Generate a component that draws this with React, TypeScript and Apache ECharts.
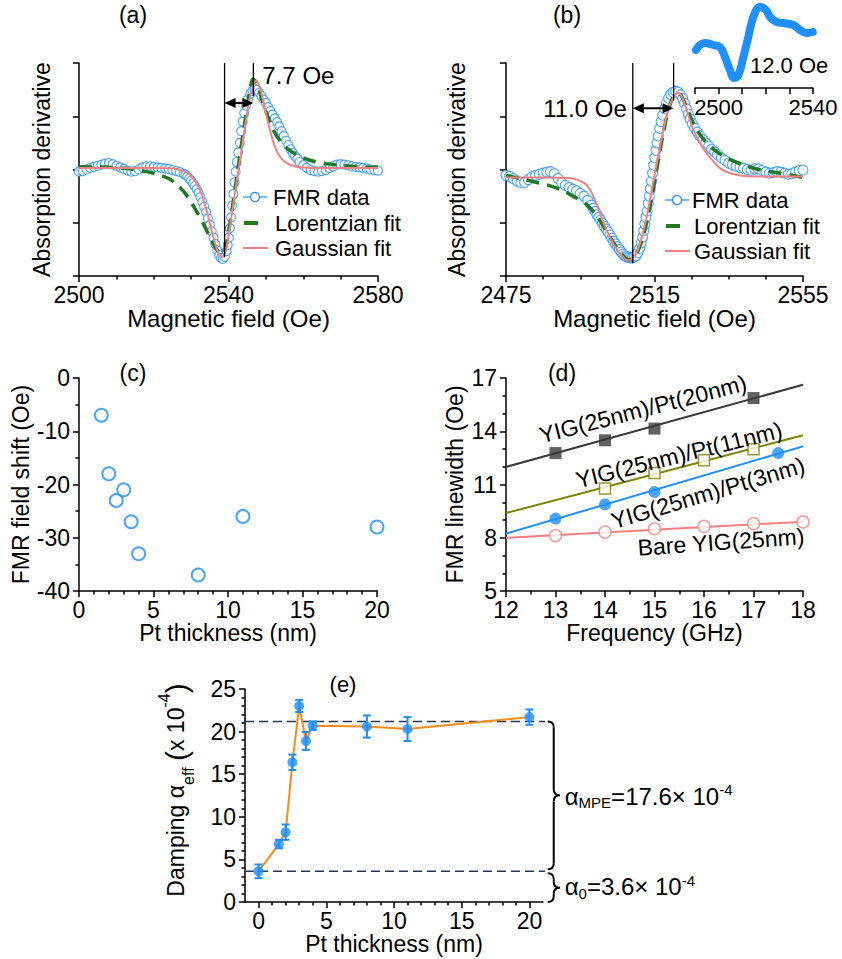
import React, { useEffect, useRef } from "react";
import * as echarts from "echarts";

type Pt = [number, number];

const FONT = "'Liberation Sans', Arial, Helvetica, sans-serif";
const BLACK = "#000";
const BLUE = "#1E8FFF";
const GREEN = "#1F7A1F";
const PINK = "#F77F7F";
const DARK = "#3A3A3A";
const OLIVE = "#808000";
const ORANGE = "#FF8A14";
const NAVY = "#23345F";

// ---------- (a) derivative spectrum, field (Oe) vs signal (arb.) ----------
const fmrA: Pt[] = [
  [2500, -0.04], [2501, -0.03], [2502, 0.0], [2503, 0.03], [2504, 0.05], [2505, 0.07], [2506, 0.09],
  [2507, 0.11], [2508, 0.12], [2509, 0.1], [2510, 0.07], [2511, 0.04], [2512, 0.01], [2513, -0.02],
  [2514, -0.04], [2515, -0.03], [2516, 0.0], [2517, 0.04], [2518, 0.06], [2519, 0.06], [2520, 0.05],
  [2521, 0.04], [2522, 0.03], [2523, 0.02], [2524, 0.01], [2525, -0.01], [2526, -0.03], [2527, -0.05],
  [2528, -0.08], [2528.5, -0.1], [2529, -0.13], [2529.5, -0.17], [2530, -0.21], [2530.5, -0.26],
  [2531, -0.31], [2531.5, -0.37], [2532, -0.44], [2532.5, -0.52], [2533, -0.61], [2533.5, -0.7],
  [2534, -0.8], [2534.5, -0.92], [2535, -1.04], [2535.5, -1.16], [2536, -1.28], [2536.5, -1.4],
  [2537, -1.52], [2537.5, -1.61], [2538, -1.66], [2538.5, -1.68], [2539, -1.64], [2539.5, -1.53],
  [2539.8, -1.42], [2540.1, -1.28], [2540.4, -1.1], [2540.7, -0.9], [2541, -0.68], [2541.3, -0.46],
  [2541.6, -0.24], [2541.9, -0.04], [2542.2, 0.14], [2542.6, 0.32], [2543, 0.5], [2543.4, 0.72],
  [2543.8, 0.9], [2544.2, 1.06], [2544.7, 1.2], [2545.2, 1.32], [2545.8, 1.42], [2546.4, 1.48],
  [2547, 1.51], [2547.6, 1.5], [2548.2, 1.44], [2548.8, 1.38], [2549.4, 1.31], [2550, 1.25],
  [2550.6, 1.17], [2551.2, 1.1], [2551.8, 1.03], [2552.4, 0.96], [2553, 0.89], [2553.6, 0.81],
  [2554.2, 0.72], [2554.8, 0.63], [2555.4, 0.54], [2556, 0.46], [2556.6, 0.38], [2557.2, 0.31],
  [2557.8, 0.25], [2558.4, 0.2], [2559, 0.14], [2560, 0.08], [2561, 0.03], [2562, -0.01],
  [2563, -0.03], [2564, -0.04], [2565, -0.03], [2566, -0.01], [2567, 0.03], [2568, 0.06],
  [2569, 0.09], [2570, 0.1], [2571, 0.09], [2572, 0.08], [2573, 0.06], [2574, 0.05], [2575, 0.04],
  [2576, 0.03], [2577, 0.02], [2578, 0.0], [2579, -0.01], [2580, -0.02],
];
const lorentzA: Pt[] = [
  [2500, 0.05], [2508, 0.04], [2514, 0.01], [2518, -0.04], [2521, -0.09], [2524, -0.17],
  [2526.5, -0.3], [2529, -0.5], [2531.4, -0.78], [2533.5, -1.05], [2535.2, -1.3], [2537, -1.52],
  [2538.2, -1.6], [2539.3, -1.45], [2540.4, -1.0], [2541.7, -0.4], [2543, 0.25], [2544.3, 0.85],
  [2545.5, 1.4], [2546.6, 1.7], [2547.6, 1.62], [2549, 1.3], [2550.5, 1.0], [2552, 0.74],
  [2554, 0.52], [2556, 0.38], [2559, 0.25], [2562, 0.17], [2566, 0.11], [2570, 0.08],
  [2575, 0.05], [2580, 0.04],
];
const gaussA: Pt[] = [
  [2500, 0.03], [2510, 0.03], [2520, 0.03], [2525, 0.02], [2527.5, -0.02], [2529.7, -0.1],
  [2531.9, -0.32], [2533.3, -0.57], [2534.6, -0.89], [2535.9, -1.26], [2537.3, -1.57],
  [2538.2, -1.65], [2539.3, -1.51], [2540.4, -1.07], [2541.7, -0.45], [2543.1, 0.18],
  [2544.4, 0.8], [2545.8, 1.37], [2547.4, 1.67], [2548.6, 1.49], [2549.8, 1.12], [2551.1, 0.74],
  [2552.4, 0.43], [2553.8, 0.24], [2555.6, 0.12], [2558.2, 0.05], [2562, 0.03], [2570, 0.03],
  [2580, 0.03],
];
const troughA = 2538.2;
const peakA = 2547.4;
const widthA = 7.7;

// ---------- (b) derivative spectrum ----------
const fmrB: Pt[] = [
  [2475, -0.11], [2476, -0.13], [2477, -0.17], [2478, -0.22], [2479, -0.25], [2480, -0.24],
  [2481, -0.19], [2482, -0.14], [2483, -0.11], [2484, -0.09], [2485, -0.07], [2486, -0.05],
  [2487, -0.04], [2488, -0.08], [2489, -0.17], [2490, -0.25], [2491, -0.3], [2492, -0.34],
  [2493, -0.37], [2494, -0.4], [2495, -0.45], [2496, -0.5], [2497, -0.58], [2498, -0.67],
  [2498.5, -0.73], [2499, -0.79], [2499.5, -0.85], [2500, -0.9], [2500.5, -0.95], [2501, -1.01],
  [2501.5, -1.07], [2502, -1.12], [2502.5, -1.17], [2503, -1.23], [2503.5, -1.29], [2504, -1.35],
  [2504.5, -1.4], [2505, -1.45], [2505.5, -1.5], [2506, -1.55], [2506.5, -1.59], [2507, -1.62],
  [2507.5, -1.64], [2508, -1.65], [2508.5, -1.66], [2509, -1.66], [2509.5, -1.64], [2510, -1.62],
  [2510.5, -1.56], [2511, -1.48], [2511.4, -1.38], [2511.8, -1.27], [2512.1, -1.15],
  [2512.4, -1.03], [2512.7, -0.9], [2513, -0.78], [2513.3, -0.64], [2513.6, -0.5],
  [2513.9, -0.36], [2514.2, -0.22], [2514.5, -0.07], [2514.8, 0.08], [2515.1, 0.22],
  [2515.4, 0.36], [2515.7, 0.5], [2516, 0.63], [2516.4, 0.77], [2516.8, 0.9], [2517.2, 1.02],
  [2517.7, 1.14], [2518.2, 1.25], [2518.8, 1.34], [2519.4, 1.41], [2520, 1.45], [2520.7, 1.47],
  [2521.4, 1.45], [2522, 1.4], [2522.6, 1.33], [2523.1, 1.24], [2523.6, 1.14], [2524.1, 1.04],
  [2524.6, 0.95], [2525.2, 0.86], [2525.8, 0.78], [2526.5, 0.7], [2527.2, 0.63], [2528, 0.56],
  [2528.8, 0.5], [2529.6, 0.44], [2530.4, 0.38], [2531.2, 0.33], [2532, 0.28], [2533, 0.22],
  [2534, 0.17], [2535, 0.12], [2536, 0.09], [2537, 0.06], [2538, 0.04], [2539, 0.02], [2540, 0.0],
  [2541, -0.01], [2542, 0.01], [2543, 0.01], [2544, -0.02], [2545, -0.05], [2546, -0.07],
  [2547, -0.06], [2548, -0.04], [2549, -0.05], [2550, -0.07], [2551, -0.09], [2552, -0.08],
  [2553, -0.05], [2554, -0.02], [2555, -0.01],
];
const lorentzB: Pt[] = [
  [2475, -0.11], [2478.9, -0.17], [2482.5, -0.23], [2486.1, -0.29], [2489.7, -0.38],
  [2493.3, -0.51], [2496.9, -0.67], [2499.6, -0.89], [2501.9, -1.14], [2504.1, -1.39],
  [2506.4, -1.61], [2508.2, -1.7], [2510, -1.6], [2511.8, -1.29], [2513.6, -0.76],
  [2515.4, -0.07], [2517.2, 0.62], [2519, 1.18], [2520.8, 1.42], [2522.1, 1.4], [2523.9, 1.12],
  [2525.7, 0.83], [2528.4, 0.55], [2531.1, 0.37], [2534.7, 0.21], [2539.2, 0.08],
  [2543.6, -0.01], [2549, -0.07], [2555, -0.15],
];
const gaussB: Pt[] = [
  [2475, -0.15], [2485, -0.15], [2492, -0.16], [2494.5, -0.2], [2496.7, -0.29], [2498.5, -0.5],
  [2500.3, -0.82], [2502.1, -1.14], [2503.9, -1.39], [2505.7, -1.58], [2507.9, -1.71],
  [2509.8, -1.61], [2511.1, -1.39], [2512.5, -1.01], [2513.8, -0.57], [2515.1, -0.07],
  [2516.5, 0.43], [2517.8, 0.87], [2519.1, 1.21], [2520.5, 1.4], [2521.4, 1.44], [2522.8, 1.3],
  [2524.1, 1.02], [2525.5, 0.74], [2527.3, 0.49], [2529.1, 0.3], [2530.9, 0.15], [2532.7, 0.02],
  [2535.4, -0.07], [2539, -0.12], [2546, -0.13], [2555, -0.13],
];
const troughB = 2507.9;
const peakB = 2521.4;
const widthB = 11.0;

// inset of (b): raw trace of the broad sample
const insetField = [
  2490.4, 2492.1, 2494.2, 2497.8, 2500.6, 2502.7, 2504.8, 2506.5, 2508.4, 2510.5, 2512.6,
  2514.7, 2517.5, 2520.1, 2521.8, 2524.6, 2527.4, 2531.7, 2534.5, 2537.3, 2539.9,
];
const insetSignal = [38, 43, 45, 43, 41, 31, 18, 10, 13, 31, 51, 71, 81, 78, 71, 66, 65, 63, 58, 55, 56];
const insetWidth = 12.0;

// ---------- (c) FMR field shift vs Pt thickness ----------
const ptThicknessC = [1.5, 2, 2.5, 3, 3.5, 4, 8, 11, 20];
const fieldShift = [-7, -18, -23, -21, -27, -33, -37, -26, -28];

// ---------- (d) linewidth vs frequency ----------
const freqPt20 = [13, 14, 15, 17];
const lwPt20 = [12.77, 13.49, 14.15, 15.87];
const freqPt11 = [14, 15, 16, 17];
const lwPt11 = [10.77, 11.65, 12.36, 12.98];
const freqPt3 = [13, 14, 15, 17.5];
const lwPt3 = [9.08, 9.88, 10.58, 12.77];
const freqBare = [13, 14, 15, 16, 17, 18];
const lwBare = [8.12, 8.32, 8.51, 8.64, 8.79, 8.89];
const fitPt20: Pt[] = [[12, 11.99], [18, 16.62]];
const fitPt11: Pt[] = [[12, 9.39], [18, 13.77]];
const fitPt3: Pt[] = [[12, 8.23], [18, 13.15]];
const fitBare: Pt[] = [[12, 7.99], [18.5, 8.98]];

// ---------- (e) effective damping vs Pt thickness ----------
const ptThicknessE = [0, 1.5, 2, 2.5, 3, 3.5, 4, 8, 11, 20];
const damping = [3.6, 6.8, 8.2, 16.4, 23.0, 18.9, 20.7, 20.6, 20.3, 21.7];
const dampingErr = [0.8, 0.5, 0.9, 0.9, 0.7, 1.05, 0.5, 1.3, 1.4, 0.9];
const alpha0 = 3.6;
const alphaMPE = 17.6;

const zip = (xs: number[], ys: number[]): Pt[] => xs.map((x, i) => [x, ys[i]]);
const range = (a: number, b: number, step = 1, skip = 0) => {
  const out: number[] = [];
  for (let v = a; v <= b + 1e-9; v += step) {
    if (skip && Math.abs(v / skip - Math.round(v / skip)) < 1e-9) continue;
    out.push(Math.round(v * 100) / 100);
  }
  return out;
};

const lineStyleAxis = { color: BLACK, width: 1.5 };

function major(o: any) {
  const ax: any = {
    type: "value",
    gridIndex: o.grid,
    min: o.min,
    max: o.max,
    position: o.pos,
    axisLine: { show: true, onZero: false, lineStyle: lineStyleAxis },
    axisTick: { show: true, inside: false, length: 6, customValues: o.ticks, lineStyle: lineStyleAxis },
    axisLabel: o.labels
      ? {
          show: true,
          customValues: o.labels,
          formatter: (v: number) => String(v),
          fontSize: o.labelSize || 23,
          fontFamily: FONT,
          color: BLACK,
          margin: o.margin ?? 7,
        }
      : { show: false },
    splitLine: { show: false },
  };
  if (o.name) {
    ax.name = o.name;
    ax.nameLocation = "middle";
    ax.nameGap = o.nameGap;
    ax.nameRotate = o.pos === "left" ? 90 : 0;
    ax.nameTextStyle = { fontSize: o.nameSize || 23, fontFamily: FONT, color: BLACK };
  }
  return ax;
}

function minor(grid: number, min: number, max: number, ticks: number[], pos: string) {
  return {
    type: "value",
    gridIndex: grid,
    min,
    max,
    position: pos,
    axisLine: { show: false, onZero: false },
    axisTick: { show: true, inside: false, length: 3.5, customValues: ticks, lineStyle: lineStyleAxis },
    axisLabel: { show: false },
    splitLine: { show: false },
  };
}

function buildOption() {
  const xAxis = [
    major({ grid: 0, min: 2500, max: 2580, pos: "bottom", ticks: [2500, 2540, 2580], labels: [2500, 2540, 2580], name: "Magnetic field (Oe)", nameGap: 27, nameSize: 24 }),
    minor(0, 2500, 2580, [2510, 2520, 2530, 2550, 2560, 2570], "bottom"),
    major({ grid: 1, min: 2475, max: 2555, pos: "bottom", ticks: [2475, 2515, 2555], labels: [2475, 2515, 2555], name: "Magnetic field (Oe)", nameGap: 27, nameSize: 24 }),
    minor(1, 2475, 2555, [2485, 2495, 2505, 2525, 2535, 2545], "bottom"),
    major({ grid: 2, min: 2490, max: 2540, pos: "bottom", ticks: range(2490, 2540, 10), labels: [2500, 2540], labelSize: 22, margin: 8 }),
    major({ grid: 3, min: 0, max: 20, pos: "bottom", ticks: range(0, 20, 5), labels: range(0, 20, 5), name: "Pt thickness (nm)", nameGap: 29 }),
    minor(3, 0, 20, range(0, 20, 1, 5), "bottom"),
    major({ grid: 4, min: 12, max: 18, pos: "bottom", ticks: range(12, 18, 1), labels: range(12, 18, 1), name: "Frequency (GHz)", nameGap: 29 }),
    minor(4, 12, 18, range(12.5, 17.5, 1), "bottom"),
    major({ grid: 5, min: -1, max: 21, pos: "bottom", ticks: range(0, 20, 5), labels: range(0, 20, 5), name: "Pt thickness (nm)", nameGap: 29 }),
    minor(5, -1, 21, range(1, 19, 1, 5), "bottom"),
  ];
  const yAxis = [
    major({ grid: 0, min: -2, max: 2, pos: "left", ticks: range(-2, 2, 1), labels: null, name: "Absorption derivative", nameGap: 26 }),
    major({ grid: 1, min: -2, max: 2, pos: "left", ticks: range(-2, 2, 1), labels: null, name: "Absorption derivative", nameGap: 38 }),
    { type: "value", gridIndex: 2, min: 0, max: 88, show: false },
    major({ grid: 3, min: -40, max: 0, pos: "left", ticks: range(-40, 0, 10), labels: range(-40, 0, 10), margin: 9, name: "FMR field shift (Oe)", nameGap: 42 }),
    minor(3, -40, 0, [-35, -25, -15, -5], "left"),
    major({ grid: 4, min: 5, max: 17, pos: "left", ticks: range(5, 17, 3), labels: range(5, 17, 3), margin: 9, name: "FMR linewidth (Oe)", nameGap: 40 }),
    minor(4, 5, 17, [6, 7, 9, 10, 12, 13, 15, 16], "left"),
    major({ grid: 5, min: 0, max: 25, pos: "left", ticks: range(0, 25, 5), labels: range(0, 25, 5), margin: 9 }),
    minor(5, 0, 25, range(1, 24, 1, 5), "left"),
  ];

  const grid = [
    { left: 79, top: 63, width: 299, height: 213 },
    { left: 506, top: 63, width: 297, height: 213 },
    { left: 695, top: 0, width: 118, height: 88 },
    { left: 79, top: 378, width: 298, height: 213 },
    { left: 506, top: 378, width: 297, height: 213 },
    { left: 245, top: 689, width: 298, height: 213 },
  ];

  const fmrScatter = (data: Pt[], xi: number, yi: number, size: number) => ({
    type: "scatter", xAxisIndex: xi, yAxisIndex: yi, data, symbol: "circle", symbolSize: size,
    itemStyle: { color: "#fff", borderColor: BLUE, borderWidth: 1.1 }, z: 2, silent: true,
  });
  const fitLine = (data: Pt[], xi: number, yi: number, ls: any, z: number, extra: any = {}) => ({
    type: "line", xAxisIndex: xi, yAxisIndex: yi, data, showSymbol: false, symbol: "none",
    lineStyle: ls, z, silent: true, ...extra,
  });
  const marks = (data: Pt[], symbol: string, size: number, fill: string, stroke: string, bw: number) => ({
    type: "scatter", xAxisIndex: 7, yAxisIndex: 5, data, symbol, symbolSize: size,
    itemStyle: { color: fill, borderColor: stroke, borderWidth: bw }, z: 4, silent: true,
  });

  const series: any[] = [
    // (a)
    fmrScatter(fmrA, 0, 0, 9),
    fitLine(lorentzA, 0, 0, { color: GREEN, width: 3.5, type: [13, 8] }, 3, { smooth: 0.3 }),
    fitLine(gaussA, 0, 0, { color: PINK, width: 2 }, 4, { smooth: 0.3 }),
    // (b)
    fmrScatter(fmrB, 2, 1, 10),
    fitLine(lorentzB, 2, 1, { color: GREEN, width: 3.5, type: [13, 8] }, 3, { smooth: 0.3 }),
    fitLine(gaussB, 2, 1, { color: PINK, width: 2 }, 4, { smooth: 0.3 }),
    // inset of (b)
    fitLine(zip(insetField, insetSignal), 4, 2, { color: BLUE, width: 8, cap: "round", join: "round" }, 3, { smooth: 0.4 }),
    // (c)
    {
      type: "scatter", xAxisIndex: 5, yAxisIndex: 3, data: zip(ptThicknessC, fieldShift), symbol: "circle",
      symbolSize: 13, itemStyle: { color: "#fff", borderColor: BLUE, borderWidth: 2 }, silent: true,
    },
    // (d) linear fits
    fitLine(fitPt20, 7, 5, { color: DARK, width: 2 }, 3),
    fitLine(fitPt11, 7, 5, { color: OLIVE, width: 2 }, 3),
    fitLine(fitPt3, 7, 5, { color: BLUE, width: 2 }, 3),
    fitLine(fitBare, 7, 5, { color: PINK, width: 2 }, 3, { clip: false }),
    marks(zip(freqPt20, lwPt20), "rect", 12, DARK, DARK, 0),
    marks(zip(freqPt11, lwPt11), "rect", 11, "#fff", OLIVE, 1.5),
    marks(zip(freqPt3, lwPt3), "circle", 12, BLUE, BLUE, 0),
    marks(zip(freqBare, lwBare), "circle", 12, "#fff", PINK, 1.5),
    // (e)
    fitLine([[-1, alpha0 + alphaMPE], [21.35, alpha0 + alphaMPE]], 9, 7, { color: NAVY, width: 1.5, type: [9, 5] }, 1, { clip: false }),
    fitLine([[-1, alpha0], [21.35, alpha0]], 9, 7, { color: NAVY, width: 1.5, type: [9, 5] }, 1, { clip: false }),
    fitLine(zip(ptThicknessE, damping), 9, 7, { color: ORANGE, width: 2 }, 2),
    {
      type: "custom", xAxisIndex: 9, yAxisIndex: 7, z: 3, silent: true,
      data: ptThicknessE.map((x, i) => [x, damping[i], dampingErr[i]]),
      encode: { x: 0, y: 1 },
      renderItem: (params: any, api: any) => {
        const x = api.value(0), y = api.value(1), e = api.value(2);
        const top = api.coord([x, y + e]);
        const bot = api.coord([x, y - e]);
        const hw = 4;
        const st = { stroke: BLUE, lineWidth: 2 };
        return {
          type: "group",
          children: [
            { type: "line", shape: { x1: top[0], y1: top[1], x2: bot[0], y2: bot[1] }, style: st },
            { type: "line", shape: { x1: top[0] - hw, y1: top[1], x2: top[0] + hw, y2: top[1] }, style: st },
            { type: "line", shape: { x1: bot[0] - hw, y1: bot[1], x2: bot[0] + hw, y2: bot[1] }, style: st },
          ],
        };
      },
    },
    {
      type: "scatter", xAxisIndex: 9, yAxisIndex: 7, data: zip(ptThicknessE, damping), symbol: "circle",
      symbolSize: 10, itemStyle: { color: BLUE }, z: 4, silent: true,
    },
  ];

  return {
    animation: false,
    backgroundColor: "#fff",
    textStyle: { fontFamily: FONT },
    grid,
    xAxis,
    yAxis,
    series,
  };
}

const txt = (x: number, y: number, text: string, extra: any = {}) => ({
  type: "text", x, y, z: 10, silent: true,
  style: { text, fontSize: 23, fontFamily: FONT, fill: BLACK, align: "left", verticalAlign: "middle", ...extra },
});
const seg = (x1: number, y1: number, x2: number, y2: number, stroke = BLACK, lineWidth = 1.5, extra: any = {}) => ({
  type: "line", z: 10, silent: true, shape: { x1, y1, x2, y2 }, style: { stroke, lineWidth, ...extra },
});
const bez = (x1: number, y1: number, x2: number, y2: number, cx: number, cy: number) => ({
  type: "bezierCurve", z: 10, silent: true,
  shape: { x1, y1, x2, y2, cpx1: cx, cpy1: cy },
  style: { stroke: BLACK, lineWidth: 2, fill: "none" },
});

function dblArrow(xa: number, xb: number, y: number) {
  const L = 11, H = 5;
  return [
    seg(xa + L - 1, y, xb - L + 1, y, BLACK, 2),
    { type: "polygon", z: 10, silent: true, shape: { points: [[xa, y], [xa + L, y - H], [xa + L, y + H]] }, style: { fill: BLACK } },
    { type: "polygon", z: 10, silent: true, shape: { points: [[xb, y], [xb - L, y - H], [xb - L, y + H]] }, style: { fill: BLACK } },
  ];
}

function brace(x0: number, top: number, bot: number) {
  const r = Math.min(6, (bot - top) / 4);
  const tip = 6;
  const mid = (top + bot) / 2;
  const xv = x0 + 6;
  return [
    bez(x0, top, xv, top + r, xv, top),
    seg(xv, top + r, xv, mid - r, BLACK, 2),
    bez(xv, mid - r, xv + tip, mid, xv, mid),
    bez(xv + tip, mid, xv, mid + r, xv, mid),
    seg(xv, mid + r, xv, bot - r, BLACK, 2),
    bez(xv, bot - r, x0, bot, xv, bot),
  ];
}

function legend(x: number, ys: number[], textX: number) {
  return [
    seg(x, ys[0], x + 24, ys[0], BLUE, 1.2),
    { type: "circle", z: 10, silent: true, shape: { cx: x + 12, cy: ys[0], r: 4.5 }, style: { fill: "#fff", stroke: BLUE, lineWidth: 1.2 } },
    txt(textX, ys[0], "FMR data", { fontSize: 22 }),
    seg(x + 1, ys[1], x + 15, ys[1], GREEN, 4),
    txt(textX + 2, ys[1], "Lorentzian fit", { fontSize: 22 }),
    seg(x, ys[2], x + 25, ys[2], PINK, 2),
    txt(textX + 2, ys[2], "Gaussian fit", { fontSize: 22 }),
  ];
}

function buildGraphics(chart: any) {
  const P = (xi: number, yi: number, p: Pt): number[] =>
    chart.convertToPixel({ xAxisIndex: xi, yAxisIndex: yi }, p);
  const els: any[] = [];

  // panel letters
  els.push(txt(133, 15, "(a)", { align: "center" }));
  els.push(txt(567, 15, "(b)", { align: "center" }));
  els.push(txt(133, 373, "(c)", { align: "center" }));
  els.push(txt(562, 373, "(d)", { align: "center" }));
  els.push(txt(343, 684, "(e)", { align: "center", fontSize: 22 }));

  // (a) peak-to-peak width marker
  const midA = (troughA + peakA) / 2;
  const aL = midA - widthA / 2, aR = midA + widthA / 2;
  const aL1 = P(0, 0, [aL, 2]), aL2 = P(0, 0, [aL, -1.65]);
  const aR1 = P(0, 0, [aR, 2]), aR2 = P(0, 0, [aR, 1.38]);
  els.push(seg(aL1[0], aL1[1], aL2[0], aL2[1], BLACK, 1.3));
  els.push(seg(aR1[0], aR1[1], aR2[0], aR2[1], BLACK, 1.3));
  const arA = P(0, 0, [aL, 1.25]);
  els.push(...dblArrow(aL1[0], aR1[0], arA[1]));
  els.push(txt(aR1[0] + 9, P(0, 0, [aR, 1.76])[1], `${widthA.toFixed(1)} Oe`, { fontSize: 24 }));
  els.push(...legend(243, [197, 223, 248], 273));

  // (b) peak-to-peak width marker
  const midB = (troughB + peakB) / 2;
  const bL = midB - widthB / 2, bR = midB + widthB / 2;
  const bL1 = P(2, 1, [bL, 2]), bL2 = P(2, 1, [bL, -1.76]);
  const bR1 = P(2, 1, [bR, 2]), bR2 = P(2, 1, [bR, 1.3]);
  els.push(seg(bL1[0], bL1[1], bL2[0], bL2[1], BLACK, 1.3));
  els.push(seg(bR1[0], bR1[1], bR2[0], bR2[1], BLACK, 1.3));
  const arB = P(2, 1, [bL, 1.15]);
  els.push(...dblArrow(bL1[0], bR1[0], arB[1]));
  els.push(txt(bL1[0] - 6, arB[1], `${widthB.toFixed(1)} Oe`, { align: "right", fontSize: 24 }));
  els.push(...legend(665, [200, 226, 251], 692));
  els.push(txt(750, 65, `${insetWidth.toFixed(1)} Oe`, { fontSize: 22 }));

  // (d) curve labels
  const rot = (d: number) => (d * Math.PI) / 180;
  const dl = (x: number, y: number, t: string, deg: number) => ({
    ...txt(x, y, t, { align: "center" }),
    rotation: rot(deg),
  });
  els.push(dl(643, 409, "YIG(25nm)/Pt(20nm)", 14.5));
  els.push(dl(679, 455, "YIG(25nm)/Pt(11nm)", 14));
  els.push(dl(708, 493, "YIG(25nm)/Pt(3nm)", 16.5));
  els.push(dl(721, 542, "Bare YIG(25nm)", 4));

  // (e) axis title with sub/superscripts
  els.push({
    type: "text", x: 176, y: 790, z: 10, silent: true, rotation: Math.PI / 2,
    style: {
      text: "{m|Damping α}{s|eff}{m| }{p|(}{m|x 10}{u|-4}{p|)}",
      align: "center", verticalAlign: "middle",
      rich: {
        m: { fontSize: 23, fontFamily: FONT, fill: BLACK, lineHeight: 40 },
        s: { fontSize: 16, fontFamily: FONT, fill: BLACK, verticalAlign: "bottom" },
        u: { fontSize: 16, fontFamily: FONT, fill: BLACK, verticalAlign: "top" },
        p: { fontSize: 30, fontFamily: FONT, fill: BLACK, lineHeight: 40 },
      },
    },
  });

  // (e) braces and damping contributions
  const yTop = P(9, 7, [21.35, alpha0 + alphaMPE]);
  const yMid = P(9, 7, [21.35, alpha0]);
  const yZero = P(9, 7, [21.35, 0]);
  els.push(...brace(yTop[0], yTop[1], yMid[1] - 2));
  els.push(...brace(yTop[0], yMid[1] + 2, yZero[1]));
  const richA = {
    a: { fontSize: 24, fontFamily: FONT, fill: BLACK, lineHeight: 28 },
    s: { fontSize: 15, fontFamily: FONT, fill: BLACK, verticalAlign: "bottom" },
    u: { fontSize: 15, fontFamily: FONT, fill: BLACK, verticalAlign: "top" },
  };
  els.push({
    type: "text", x: yTop[0] + 17, y: (yTop[1] + yMid[1]) / 2, z: 10, silent: true,
    style: { text: `{a|α}{s|MPE}{a|=${alphaMPE.toFixed(1)}\u00d7 10}{u|-4}`, align: "left", verticalAlign: "middle", rich: richA },
  });
  els.push({
    type: "text", x: yTop[0] + 17, y: (yMid[1] + yZero[1]) / 2, z: 10, silent: true,
    style: { text: `{a|α}{s|0}{a|=${alpha0.toFixed(1)}\u00d7 10}{u|-4}`, align: "left", verticalAlign: "middle", rich: richA },
  });

  return els;
}

export default function App() {
  const ref = useRef<HTMLDivElement>(null);
  useEffect(() => {
    const el = ref.current;
    if (!el) return;
    const chart = echarts.init(el, undefined, { renderer: "svg" });
    chart.setOption(buildOption());
    chart.setOption({ graphic: buildGraphics(chart) });
    return () => chart.dispose();
  }, []);
  return (
    <div
      ref={ref}
      style={{ position: "absolute", left: 0, top: 0, width: 842, height: 959, background: "#fff" }}
    />
  );
}
